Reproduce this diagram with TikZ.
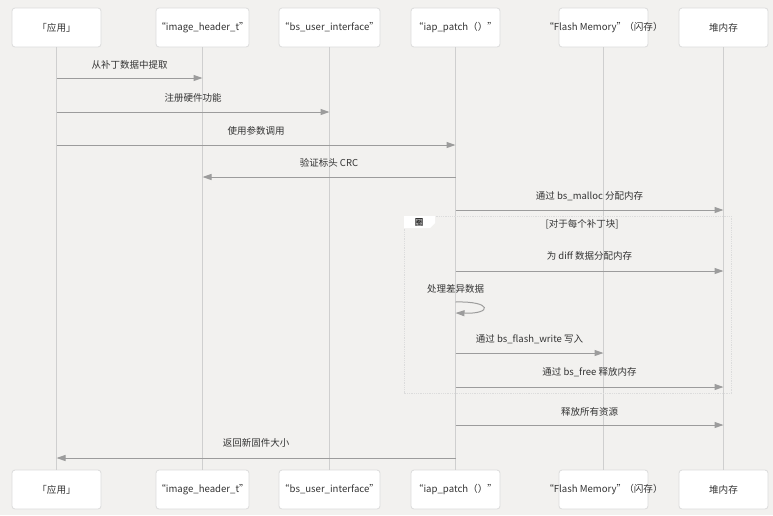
\documentclass[tikz,border=0pt]{standalone}
\usepackage{fontspec}
\setmainfont{Noto Sans CJK SC}
\usetikzlibrary{arrows.meta, positioning}

\definecolor{bgGray}{HTML}{F2F1EF}
\definecolor{boxLine}{HTML}{DCDCDC}
\definecolor{lifeGray}{HTML}{CFCFCF}
\definecolor{msgGray}{HTML}{9C9C9C}
\definecolor{textDark}{HTML}{333333}

\begin{document}
\begin{tikzpicture}[
    x=1pt, y=-1pt,
    >={Triangle[length=9pt,width=6pt]},
    % Node Styles
    actor/.style={rectangle, rounded corners=3pt, draw=boxLine, fill=white, line width=0.8pt,
        minimum width=89pt, minimum height=39pt, inner sep=0pt, text=textDark,
        font=\fontsize{9.6}{12}\selectfont},
    msgText/.style={text=textDark, font=\fontsize{9.5}{11}\selectfont, inner sep=0pt},
    % Line Styles
    lifeline/.style={draw=lifeGray, line width=1.3pt},
    msg/.style={->, draw=msgGray, line width=1pt},
    frame/.style={draw=boxLine, densely dotted, line width=0.8pt}
]

% background, fixes the page size
\fill[bgGray] (0,0) rectangle (773,515);

% =========================================================
% PARTICIPANTS (top and bottom row)
% =========================================================
\foreach \row/\y in {Top/27.5, Bot/489.5} {
    \node[actor] (app\row) at (56.5,\y) {「应用」};
    \node[actor, minimum width=93pt] (hdr\row) at (202.5,\y) {“image\_header\_t”};
    \node[actor, minimum width=101pt] (bsui\row) at (329.5,\y) {“bs\_user\_interface”};
    \node[actor] (patch\row) at (455.5,\y) {“iap\_patch（）”};
    \node[actor] (flash\row) at (603.5,\y) {\makebox[0pt]{“Flash Memory”\kern-2pt（闪存）}};
    \node[actor] (heap\row) at (723.5,\y) {堆内存};
}

% Lifelines
\foreach \n in {app, hdr, bsui, patch, flash, heap} {
    \draw[lifeline] (\n Top.south) -- (\n Bot.north);
}

% Message rows
\foreach \r/\y in {r1/78, r2/112, r3/145, r4/177, r5/210, r6/271, r7a/302, r7b/313,
                   r8/353, r9/387, r10/425, r11/458} {
    \coordinate (\r) at (0,\y);
}

% =========================================================
% MESSAGES
% =========================================================
\draw[msg] (appTop |- r1) -- (hdrTop |- r1)
    node[msgText, midway, yshift=13pt] {从补丁数据中提取};
\draw[msg] (appTop |- r2) -- (bsuiTop |- r2)
    node[msgText, midway, yshift=14pt] {注册硬件功能};
\draw[msg] (appTop |- r3) -- (patchTop |- r3)
    node[msgText, midway, yshift=14pt] {使用参数调用};
\draw[msg] (patchTop |- r4) -- (hdrTop |- r4)
    node[msgText, midway, yshift=14pt] {验证标头 CRC};
\draw[msg] (patchTop |- r5) -- (heapTop |- r5)
    node[msgText, midway, yshift=14pt] {通过 bs\_malloc 分配内存};

% Loop frame
\draw[frame] (404,216) rectangle (731,393);
\fill[white] (404,216) -- (435,216) -- (435,223) -- (430,228) -- (404,228) -- cycle;
\node[msgText, font=\fontsize{8.5}{10}\selectfont\bfseries] (loopTab) at (419,222) {圈};
\node[msgText] (loopCond) at (582,224) {[对于每个补丁块]};

\draw[msg] (patchTop |- r6) -- (heapTop |- r6)
    node[msgText, midway, yshift=15pt] {为 diff 数据分配内存};
\draw[msg] (patchTop |- r7a) .. controls +(37,-1) and +(37,1) .. (patchTop |- r7b);
\node[msgText, yshift=13pt] (selfLbl) at (patchTop |- r7a) {处理差异数据};
\draw[msg] (patchTop |- r8) -- (flashTop |- r8)
    node[msgText, midway, yshift=14pt] {通过 bs\_flash\_write 写入};
\draw[msg] (patchTop |- r9) -- (heapTop |- r9)
    node[msgText, midway, yshift=15pt] {通过 bs\_free 释放内存};

\draw[msg] (patchTop |- r10) -- (heapTop |- r10)
    node[msgText, midway, yshift=13pt] {释放所有资源};
\draw[msg] (patchTop |- r11) -- (appTop |- r11)
    node[msgText, midway, yshift=15pt] {返回新固件大小};

\end{tikzpicture}
\end{document}
